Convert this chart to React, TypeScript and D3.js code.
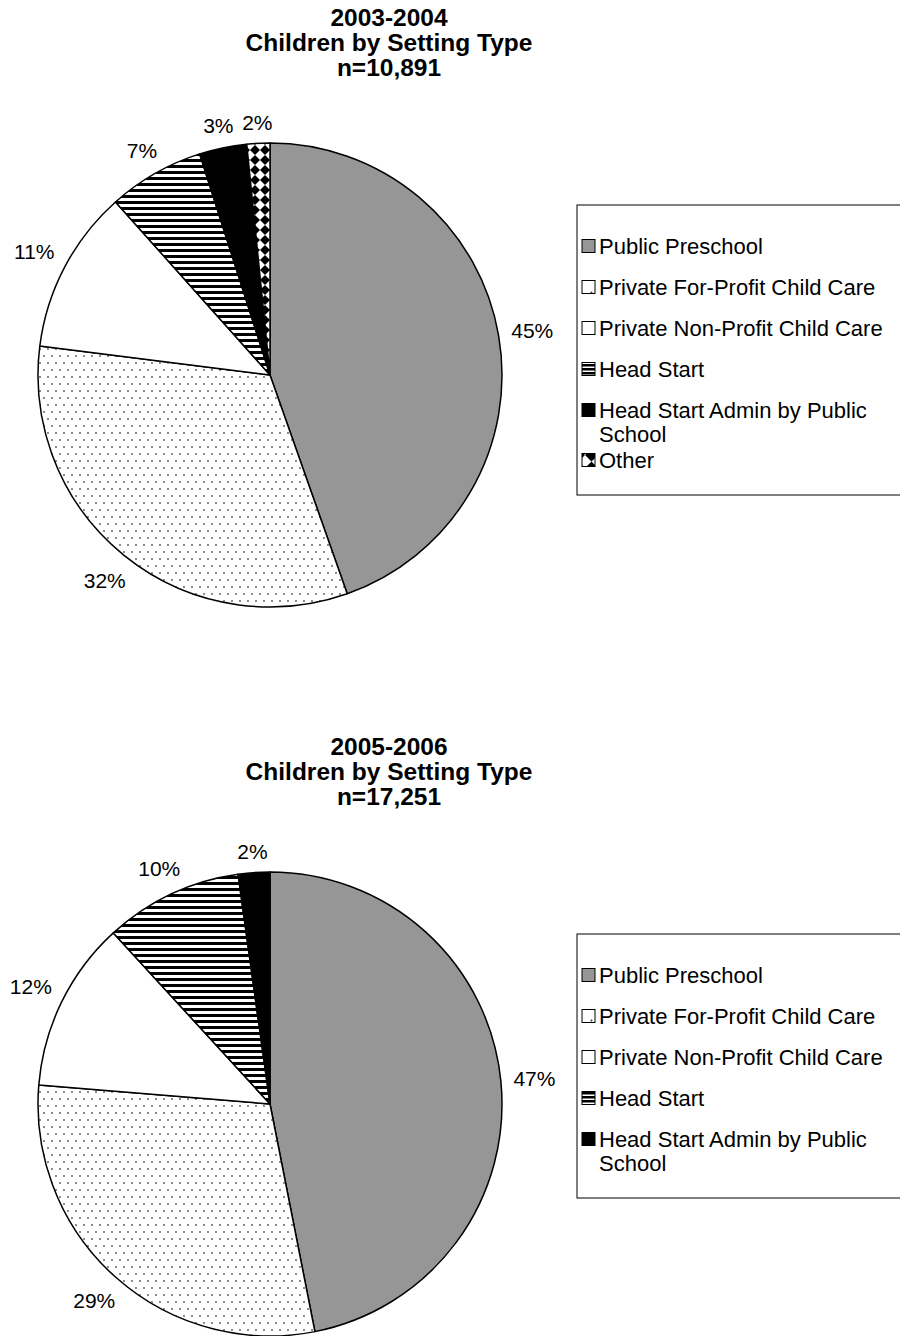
import React from 'react';
import * as d3 from 'd3';

// setting types, in slice order (clockwise from 12 o'clock)
const settings2003 = [
  'Public Preschool',
  'Private For-Profit Child Care',
  'Private Non-Profit Child Care',
  'Head Start',
  'Head Start Admin by Public School',
  'Other'
];
const shares2003 = [44.6, 32.4, 11.4, 6.7, 3.3, 1.6];
const title2003 = ['2003-2004', 'Children by Setting Type', 'n=10,891'];

const settings2005 = [
  'Public Preschool',
  'Private For-Profit Child Care',
  'Private Non-Profit Child Care',
  'Head Start',
  'Head Start Admin by Public School'
];
const shares2005 = [46.9, 29.4, 11.9, 9.6, 2.2];
const title2005 = ['2005-2006', 'Children by Setting Type', 'n=17,251'];

const FONT = 'Arial, "Liberation Sans", Helvetica, sans-serif';

// fill per setting type
const fills: Record<string, string> = {
  'Public Preschool': '#969696',
  'Private For-Profit Child Care': 'url(#dots)',
  'Private Non-Profit Child Care': '#ffffff',
  'Head Start': 'url(#stripes)',
  'Head Start Admin by Public School': '#000000',
  'Other': 'url(#diamonds)'
};
const swatchFills: Record<string, string> = {
  ...fills,
  'Private For-Profit Child Care': 'url(#dotsSwatch)',
  'Head Start': 'url(#stripesSwatch)',
  'Other': 'url(#diamondsSwatch)'
};

const Patterns = () => (
  <defs>
    <pattern id="dots" width={8} height={14} patternUnits="userSpaceOnUse">
      <rect width={8} height={14} fill="#fff" />
      <circle cx={2} cy={2} r={0.9} fill="#555" />
      <circle cx={6} cy={9} r={0.9} fill="#555" />
    </pattern>
    <pattern id="stripes" width={6} height={6} patternUnits="userSpaceOnUse">
      <rect width={6} height={6} fill="#fff" />
      <rect width={6} height={3} fill="#000" />
    </pattern>
    <pattern id="diamonds" width={10} height={10} patternUnits="userSpaceOnUse">
      <rect width={10} height={10} fill="#fff" />
      <path d="M5,0 L10,5 L5,10 L0,5 Z" fill="#000" />
    </pattern>
    <pattern id="dotsSwatch" width={13} height={13} patternUnits="userSpaceOnUse">
      <rect width={13} height={13} fill="#fff" />
      <circle cx={6.5} cy={6.5} r={1} fill="#333" />
    </pattern>
    <pattern id="stripesSwatch" width={13} height={4} patternUnits="userSpaceOnUse">
      <rect width={13} height={4} fill="#fff" />
      <rect width={13} height={2.5} fill="#000" />
    </pattern>
    <pattern id="diamondsSwatch" width={13} height={13} patternUnits="userSpaceOnUse">
      <rect width={13} height={13} fill="#fff" />
      <path d="M0,0 L13,0 L6.5,6.5 Z M0,13 L13,13 L6.5,6.5 Z" fill="#000" />
    </pattern>
  </defs>
);

interface PieProps {
  top: number;
  title: string[];
  settings: string[];
  shares: number[];
}

const R = 232;
const labelSize = 21;
const legendSize = 22;

const SettingPie: React.FC<PieProps> = ({ top, title, settings, shares }) => {
  const cx = 270;
  const cy = top + 375;
  const total = d3.sum(shares);
  const pie = d3.pie<number>().value(d => d).sort(null);
  const arcs = pie(shares);
  const arc = d3.arc<d3.PieArcDatum<number>>().innerRadius(0).outerRadius(R);
  const pct = (v: number) => Math.round((v / total) * 100) + '%';

  // legend geometry
  const legX = 577;
  const legTop = top + 205;
  const step = 41;
  let yy = legTop + 41;
  const rows: { name: string; y: number; lines: string[] }[] = [];
  settings.forEach(name => {
    const lines = name === 'Head Start Admin by Public School'
      ? ['Head Start Admin by Public', 'School']
      : [name];
    rows.push({ name, y: yy, lines });
    yy += step + (lines.length - 1) * 9;
  });
  const legBottom = rows[rows.length - 1].y + (rows[rows.length - 1].lines.length - 1) * 24 + 35;

  return (
    <g>
      <text x={389} textAnchor="middle" fontFamily={FONT} fontWeight="bold" fontSize={24.5}>
        {title.map((t, i) => (
          <tspan key={i} x={389} y={top + 26 + i * 25}>{t}</tspan>
        ))}
      </text>

      <g transform={`translate(${cx},${cy})`}>
        {arcs.map((d, i) => (
          <path key={i} d={arc(d) || ''} fill={fills[settings[i]]}
            stroke="#000" strokeWidth={1.5} strokeLinejoin="round" />
        ))}
        {arcs.map((d, i) => {
          const a = (d.startAngle + d.endAngle) / 2;
          const s = Math.sin(a);
          const c = -Math.cos(a);
          const label = pct(d.data);
          const w = (label.length - 1) * 0.556 * labelSize + 0.889 * labelSize;
          const h = labelSize * 0.75;
          const dist = R + 12 + Math.abs(s) * w / 2 + Math.abs(c) * h / 2;
          return (
            <text key={'l' + i} x={s * dist} y={c * dist} dy="0.36em" textAnchor="middle"
              fontFamily={FONT} fontSize={labelSize} fill="#000">{label}</text>
          );
        })}
      </g>

      <rect x={legX} y={legTop} width={330} height={legBottom - legTop}
        fill="#fff" stroke="#000" strokeWidth={1} />
      {rows.map(r => (
        <g key={r.name}>
          <rect x={legX + 5} y={r.y - 6.5} width={13} height={13}
            fill={swatchFills[r.name]} stroke="#000" strokeWidth={1} />
          <text fontFamily={FONT} fontSize={legendSize} fill="#000">
            {r.lines.map((l, i) => (
              <tspan key={i} x={legX + 22} y={r.y + 7.5 + i * 24}>{l}</tspan>
            ))}
          </text>
        </g>
      ))}
    </g>
  );
};

export default function App() {
  return (
    <svg width={900} height={1336} viewBox="0 0 900 1336"
      style={{ position: 'absolute', left: 0, top: 0, background: '#fff' }}>
      <Patterns />
      <rect width={900} height={1336} fill="#fff" />
      <SettingPie top={0} title={title2003} settings={settings2003} shares={shares2003} />
      <SettingPie top={729} title={title2005} settings={settings2005} shares={shares2005} />
    </svg>
  );
}
